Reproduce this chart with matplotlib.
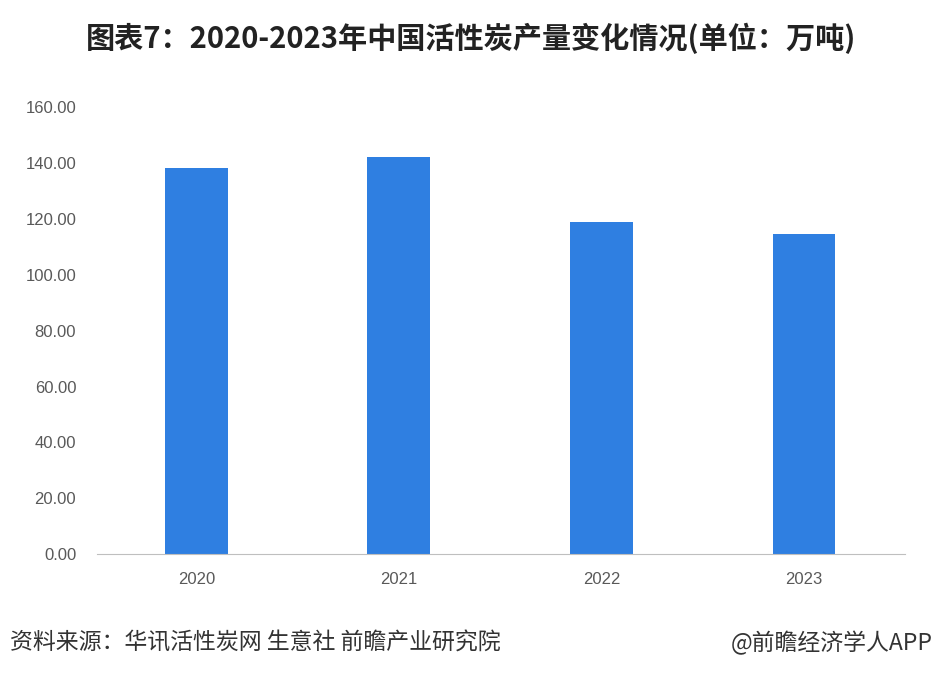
import matplotlib
matplotlib.use('Agg')
import matplotlib.pyplot as plt

plt.rcParams['font.family'] = ['Noto Sans CJK SC', 'DejaVu Sans']

years = ['2020', '2021', '2022', '2023']
output = [138.3, 142.2, 118.9, 114.5]   # 万吨
yticks = [0, 20, 40, 60, 80, 100, 120, 140, 160]

fig = plt.figure(figsize=(9.42, 6.79), dpi=100)
ax = fig.add_axes([0.103, 0.184, 0.858, 0.658])

ax.bar(years, output, width=0.31, color='#2F7FE1')

ax.set_xlim(-0.49, 3.5)
ax.set_ylim(0, 160)
ax.set_yticks(yticks)
ax.set_yticklabels(['%.2f' % v for v in yticks])

for s in ['top', 'right', 'left']:
    ax.spines[s].set_visible(False)
ax.spines['bottom'].set_color('#BFBFBF')
ax.tick_params(axis='both', length=0, colors='#595959')
ax.tick_params(axis='y', pad=15)
ax.tick_params(axis='x', pad=13)
for lab in ax.get_xticklabels() + ax.get_yticklabels():
    lab.set_fontfamily('Liberation Sans')
    lab.set_fontsize(12)

fig.text(0.5, 0.944, '图表7：2020-2023年中国活性炭产量变化情况(单位：万吨)',
         ha='center', va='center', fontsize=21, fontweight='bold', color='#222222')
fig.text(0.011, 0.053, '资料来源：华讯活性炭网 生意社 前瞻产业研究院',
         ha='left', va='center', fontsize=16.5, color='#333333')
fig.text(0.99, 0.053, '@前瞻经济学人APP',
         ha='right', va='center', fontsize=16.5, color='#333333')

fig.savefig('out.png', dpi=100)
